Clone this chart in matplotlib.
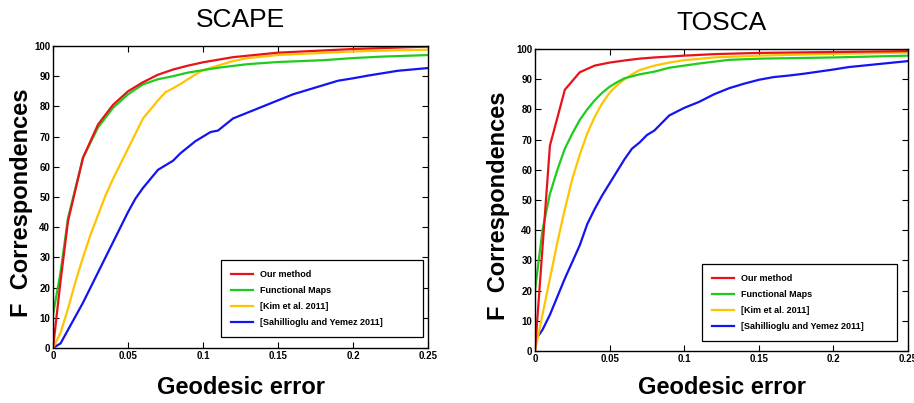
import matplotlib
matplotlib.use("Agg")
import matplotlib.pyplot as plt
import numpy as np

# ---------------- data ----------------
labels = ["Our method", "Functional Maps", "[Kim et al. 2011]", "[Sahillioglu and Yemez 2011]"]
colors = ["#e8121a", "#1ecc1e", "#ffc400", "#1414f0"]

# SCAPE
scape_red_x = [0, 0.005, 0.01, 0.02, 0.03, 0.04, 0.05, 0.06, 0.07, 0.08, 0.09, 0.1, 0.12, 0.15, 0.2, 0.25]
scape_red_y = [0, 22, 42, 63, 74, 80.5, 85, 88, 90.5, 92.2, 93.5, 94.6, 96.3, 97.8, 99.0, 99.8]

scape_green_x = [0, 0.005, 0.01, 0.02, 0.03, 0.04, 0.05, 0.06, 0.07, 0.08, 0.09, 0.1, 0.11, 0.12, 0.13, 0.15, 0.18, 0.2, 0.22, 0.25]
scape_green_y = [11, 25, 43, 63, 73, 79.5, 84, 87.3, 89, 90, 91.2, 92, 92.8, 93.4, 94, 94.7, 95.3, 96, 96.5, 97]

scape_yellow_x = [0, 0.005, 0.01, 0.015, 0.02, 0.025, 0.03, 0.035, 0.04, 0.045, 0.05, 0.055, 0.06, 0.065, 0.07, 0.075, 0.08, 0.085, 0.09, 0.095, 0.1, 0.11, 0.12, 0.13, 0.15, 0.2, 0.25]
scape_yellow_y = [0, 5, 13, 22, 30, 37.5, 44, 50.5, 56, 61, 66, 71, 76, 79, 82, 84.7, 86, 87.4, 89, 90.6, 92, 93.5, 95, 96, 97, 98.2, 98.8]

scape_blue_x = [0, 0.005, 0.01, 0.015, 0.02, 0.025, 0.03, 0.035, 0.04, 0.045, 0.05, 0.055, 0.06, 0.065, 0.07, 0.075, 0.08, 0.085, 0.09, 0.095, 0.1, 0.105, 0.11, 0.115, 0.12, 0.13, 0.14, 0.15, 0.16, 0.17, 0.18, 0.19, 0.2, 0.21, 0.22, 0.23, 0.25]
scape_blue_y = [0, 1.5, 6, 10.5, 15, 20, 25, 30, 35, 40, 45, 49.5, 53, 56, 59, 60.5, 62, 64.5, 66.5, 68.5, 70, 71.5, 72, 74, 76, 78, 80, 82, 84, 85.5, 87, 88.5, 89.3, 90.2, 91, 91.8, 92.7]

# TOSCA
tosca_red_x = [0, 0.01, 0.02, 0.03, 0.04, 0.05, 0.06, 0.07, 0.08, 0.1, 0.12, 0.15, 0.2, 0.25]
tosca_red_y = [0, 68, 86.5, 92.3, 94.5, 95.5, 96.2, 96.8, 97.2, 97.8, 98.3, 98.7, 99.0, 99.3]

tosca_green_x = [0, 0.005, 0.01, 0.015, 0.02, 0.025, 0.03, 0.035, 0.04, 0.045, 0.05, 0.055, 0.06, 0.07, 0.08, 0.09, 0.1, 0.11, 0.12, 0.13, 0.15, 0.2, 0.25]
tosca_green_y = [20, 40, 52, 60, 67, 72, 76.5, 80, 83, 85.5, 87.5, 89, 90.3, 91.6, 92.5, 93.8, 94.5, 95.2, 95.8, 96.4, 96.8, 97.2, 97.8]

tosca_yellow_x = [0, 0.005, 0.01, 0.015, 0.02, 0.025, 0.03, 0.035, 0.04, 0.045, 0.05, 0.055, 0.06, 0.065, 0.07, 0.08, 0.09, 0.1, 0.12, 0.15, 0.2, 0.25]
tosca_yellow_y = [0, 12, 24, 36, 47, 57, 65, 72, 77.5, 82, 85.5, 88, 90, 91.6, 93, 94.5, 95.5, 96.3, 97.2, 97.8, 98.4, 98.8]

tosca_blue_x = [0, 0.005, 0.01, 0.015, 0.02, 0.025, 0.03, 0.035, 0.04, 0.045, 0.05, 0.055, 0.06, 0.065, 0.07, 0.075, 0.08, 0.085, 0.09, 0.1, 0.11, 0.12, 0.13, 0.14, 0.15, 0.16, 0.17, 0.18, 0.19, 0.2, 0.21, 0.22, 0.25]
tosca_blue_y = [3.5, 7, 12, 18, 24, 29.5, 35, 42, 47, 51.5, 55.5, 59.5, 63.5, 67, 69, 71.5, 73, 75.5, 78, 80.5, 82.5, 85, 87, 88.5, 89.8, 90.7, 91.2, 91.8, 92.5, 93.2, 94, 94.5, 96]

x_ticks = [0, 0.05, 0.1, 0.15, 0.2, 0.25]
x_ticklabels = ["0", "0.05", "0.1", "0.15", "0.2", "0.25"]
y_ticks = [0, 10, 20, 30, 40, 50, 60, 70, 80, 90, 100]

panels = [
    ("SCAPE",
     [(scape_red_x, scape_red_y), (scape_green_x, scape_green_y),
      (scape_yellow_x, scape_yellow_y), (scape_blue_x, scape_blue_y)]),
    ("TOSCA",
     [(tosca_red_x, tosca_red_y), (tosca_green_x, tosca_green_y),
      (tosca_yellow_x, tosca_yellow_y), (tosca_blue_x, tosca_blue_y)]),
]

# ---------------- figure ----------------
plt.rcParams['font.family'] = ['Liberation Sans', 'DejaVu Sans']
fig = plt.figure(figsize=(9.14, 4.03), dpi=100)

rects = [[53/914, 55/403, 375/914, 302/403],
         [535/914, 52/403, 373/914, 302/403]]
legend_boxes = [(0.448, 0.036, 0.539), (0.448, 0.033, 0.523)]
ylabel_right = [33, 510]
xlabel_pad = [11, 9]

for i, (title, series) in enumerate(panels):
    ax = fig.add_axes(rects[i])
    order = [3, 2, 1, 0]
    handles = [None] * 4
    for k in order:
        xs, ys = series[k]
        h, = ax.plot(xs, ys, color=colors[k], lw=1.6, solid_joinstyle='round')
        handles[k] = h
    ax.set_xlim(0, 0.25)
    ax.set_ylim(0, 100)
    ax.set_xticks(x_ticks)
    ax.set_xticklabels(x_ticklabels)
    ax.set_yticks(y_ticks)
    ax.tick_params(direction='in', length=4, width=0.8, top=True, right=True,
                   labelsize=7, pad=2)
    for lab in ax.get_xticklabels() + ax.get_yticklabels():
        lab.set_fontweight('bold')
    for sp in ax.spines.values():
        sp.set_linewidth(1.0)
    ax.set_title(title, fontsize=19, pad=14)
    ax.set_xlabel("Geodesic error", fontsize=17, fontweight='bold', labelpad=xlabel_pad[i])
    ax.set_ylabel("F  Correspondences", fontsize=17, fontweight='bold')
    ax.yaxis.set_label_coords((ylabel_right[i] - rects[i][0]*914) / (rects[i][2]*914), 0.48)
    lx, ly, lw = legend_boxes[i]
    leg = ax.legend(handles, labels, loc='lower left', bbox_to_anchor=(lx, ly, lw, 0.26),
                    mode='expand', prop={'size': 6.5, 'weight': 'bold'},
                    frameon=True, fancybox=False, edgecolor='black', framealpha=1,
                    handlelength=2.45, handletextpad=0.8, labelspacing=0.78,
                    borderpad=1.1, borderaxespad=0)
    leg.get_frame().set_linewidth(0.9)

fig.savefig("out.png", dpi=100)
